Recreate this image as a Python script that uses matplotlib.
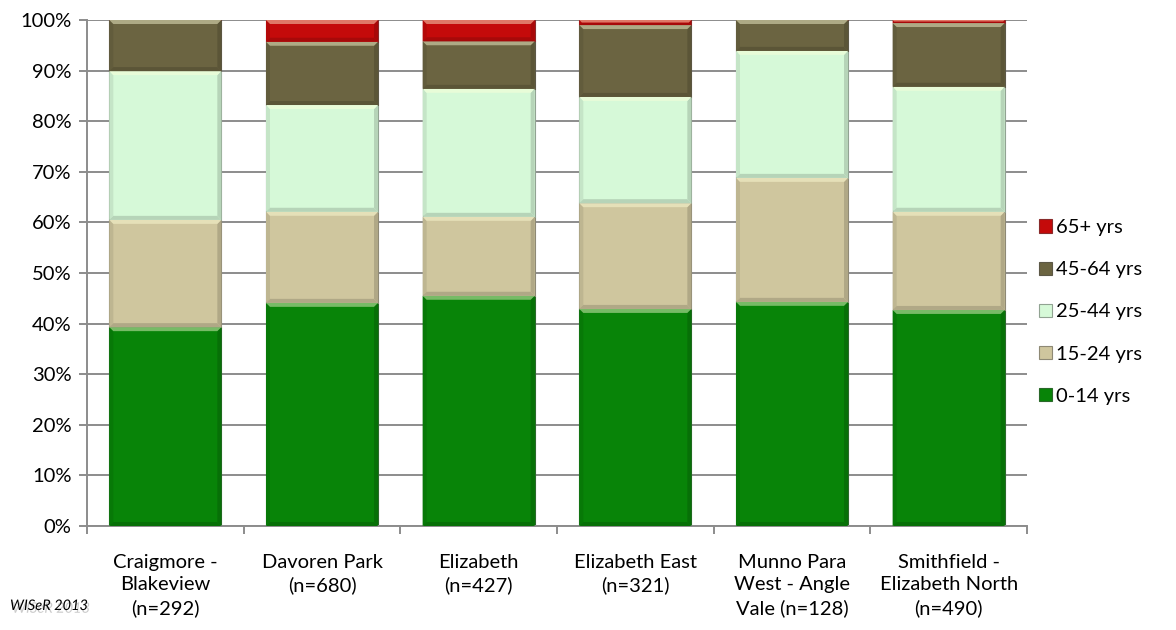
import numpy as np
import matplotlib.pyplot as plt
from matplotlib.patches import Polygon
import matplotlib.patheffects as pe
from matplotlib.colors import to_rgb

plt.rcParams['font.family'] = ['Lato', 'DejaVu Sans']

suburbs = ['Craigmore -\nBlakeview\n(n=292)', 'Davoren Park\n(n=680)', 'Elizabeth\n(n=427)',
           'Elizabeth East\n(n=321)', 'Munno Para\nWest - Angle\nVale (n=128)',
           'Smithfield -\nElizabeth North\n(n=490)']
age_groups = ['0-14 yrs', '15-24 yrs', '25-44 yrs', '45-64 yrs', '65+ yrs']

# share of residents in each age group (%)
age_0_14 = [39.3, 44.1, 45.5, 42.9, 44.3, 42.7]
age_15_24 = [21.2, 18.0, 15.6, 20.9, 24.5, 19.4]
age_25_44 = [29.4, 21.1, 25.3, 21.0, 25.1, 24.7]
age_45_64 = [10.1, 12.5, 9.4, 14.2, 6.1, 12.6]
age_65 = [0.0, 4.3, 4.2, 1.0, 0.0, 0.6]

series = [age_0_14, age_15_24, age_25_44, age_45_64, age_65]
colors = ['#088408', '#cfc69e', '#d6f9d8', '#6b6441', '#c40a0a']


def mix(c, other, t):
    c = np.array(to_rgb(c))
    return tuple(c * (1 - t) + np.array(other) * t)


def bevel(ax, rect, color, bx, by):
    # Excel-style bevel: light top band, darker sides and bottom
    x0, y0 = rect.get_x(), rect.get_y()
    x1, y1 = x0 + rect.get_width(), y0 + rect.get_height()
    h = y1 - y0
    if h <= 0:
        return
    byy = min(by, h / 2)
    bxx = bx * byy / by
    top = [(x0, y1), (x1, y1), (x1 - bxx, y1 - byy), (x0 + bxx, y1 - byy)]
    bot = [(x0, y0), (x1, y0), (x1 - bxx, y0 + byy), (x0 + bxx, y0 + byy)]
    left = [(x0, y0), (x0, y1), (x0 + bxx, y1 - byy), (x0 + bxx, y0 + byy)]
    right = [(x1, y0), (x1, y1), (x1 - bxx, y1 - byy), (x1 - bxx, y0 + byy)]
    ax.add_patch(Polygon(left, closed=True, fc=mix(color, (0, 0, 0), 0.08), ec='none', zorder=3))
    ax.add_patch(Polygon(right, closed=True, fc=mix(color, (0, 0, 0), 0.15), ec='none', zorder=3))
    ax.add_patch(Polygon(bot, closed=True, fc=mix(color, (0, 0, 0), 0.15), ec='none', zorder=3))
    ax.add_patch(Polygon(top, closed=True, fc=mix(color, (1, 1, 0.85), 0.45), ec='none', zorder=3))


fig = plt.figure(figsize=(11.76, 6.3), dpi=100)
ax = fig.add_axes([87 / 1176, 1 - 526 / 630, 940 / 1176, 506 / 630])

x = np.arange(len(suburbs))
width = 0.715
bottom = np.zeros(len(suburbs))
handles = []
# bevel size in data units (about 4 px)
bx = 4 / (940 / 6)
by = 4 / (506 / 100)
for vals, col, lab in zip(series, colors, age_groups):
    vals = np.array(vals)
    bars = ax.bar(x, vals, width, bottom=bottom, color=col, label=lab, zorder=2,
                  edgecolor=mix(col, (0.3, 0.3, 0.3), 0.5), linewidth=0.8)
    for r in bars:
        bevel(ax, r, col, bx, by)
    handles.append(bars)
    bottom += vals

ax.set_xlim(-0.5, len(suburbs) - 0.5)
ax.set_ylim(0, 100)
ax.set_yticks(np.arange(0, 101, 10))
ax.set_yticklabels([f'{v}%' for v in range(0, 101, 10)], fontsize=14.5)
ax.yaxis.grid(True, color='#8c8c8c', linewidth=1.4, zorder=0)
ax.set_axisbelow(True)

ax.set_xticks(x)
ax.set_xticklabels(suburbs, fontsize=14.5, linespacing=1.38)
ax.tick_params(axis='x', length=0, pad=20)
ax.set_xticks(np.arange(-0.5, len(suburbs)), minor=True)
ax.tick_params(axis='x', which='minor', length=6, color='#8c8c8c', width=1.4)
ax.tick_params(axis='y', length=6, color='#8c8c8c', width=1.4, pad=5)

for s in ['top', 'right']:
    ax.spines[s].set_visible(False)
for s in ['left', 'bottom']:
    ax.spines[s].set_color('#8c8c8c')
    ax.spines[s].set_linewidth(1.4)

leg = fig.legend(handles[::-1], age_groups[::-1], loc='center left',
                 bbox_to_anchor=(1039 / 1176, 1 - 312 / 630), frameon=False,
                 fontsize=14.5, handlelength=0.65, handleheight=0.65,
                 handletextpad=0.2, labelspacing=1.25, borderpad=0, borderaxespad=0)

fig.text(10 / 1176, 1 - 606 / 630, 'WISeR 2013', fontsize=10.5, style='italic', va='center',
         path_effects=[pe.withSimplePatchShadow(offset=(1.5, -2), shadow_rgbFace='#999999', alpha=0.5)])

fig.savefig('out.png', dpi=100)
